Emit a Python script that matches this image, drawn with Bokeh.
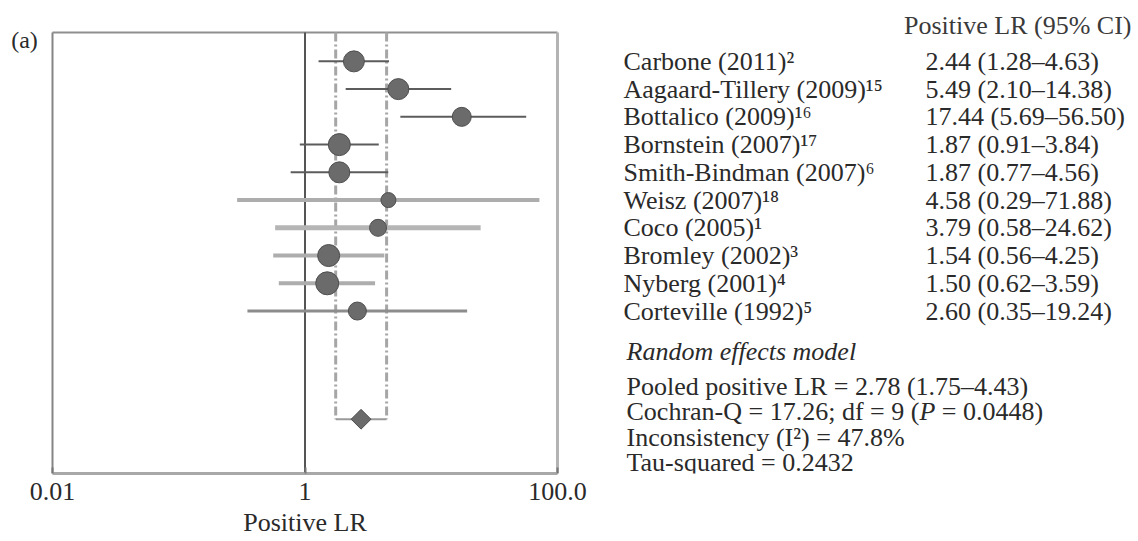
import math
from bokeh.plotting import figure
from bokeh.models import Range1d, FixedTicker, LogAxis, LogScale, ColumnDataSource, Title
from bokeh.embed import file_html
from bokeh.resources import INLINE
from bokeh.core.properties import value

# ---------------- data ----------------
studies = ["Carbone (2011)²", "Aagaard-Tillery (2009)¹⁵", "Bottalico (2009)¹⁶",
           "Bornstein (2007)¹⁷", "Smith-Bindman (2007)⁶", "Weisz (2007)¹⁸",
           "Coco (2005)¹", "Bromley (2002)³", "Nyberg (2001)⁴", "Corteville (1992)⁵"]
lr = [2.44, 5.49, 17.44, 1.87, 1.87, 4.58, 3.79, 1.54, 1.50, 2.60]
ci_lo = [1.28, 2.10, 5.69, 0.91, 0.77, 0.29, 0.58, 0.56, 0.62, 0.35]
ci_hi = [4.63, 14.38, 56.50, 3.84, 4.56, 71.88, 24.62, 4.25, 3.59, 19.24]
weights = [21, 21, 19, 22, 21, 15, 17, 22, 23, 18]   # marker diameter ~ study weight

pooled_lr = 2.78
pooled_lo = 1.75
pooled_hi = 4.43
null_value = 1

x_min, x_max = 0.01, 100
x_ticks = [0.01, 1, 100]
x_tick_labels = ["0.01", "1", "100.0"]
x_label = "Positive LR"

panel_label = "(a)"
header = "Positive LR (95% CI)"
model_title = "Random effects model"
stats_lines = ["Pooled positive LR = 2.78 (1.75–4.43)",
               "Cochran-Q = 17.26; df = 9 (",
               "Inconsistency (I²) = 47.8%",
               "Tau-squared = 0.2432"]
cochran_p = "P"
cochran_tail = "= 0.0448)"

# ---------------- layout constants (pixels) ----------------
FONT = "Liberation Serif"
FS = "26px"
TXT = "#2a2a2a"
W, H = 1134, 540
AXIS_Y = 474          # box bottom / axis line
BOX_TOP = 32
BOX_L, BOX_R = 52, 557
ROW0 = 61.0
STEP = 27.8
DEC = (BOX_R - BOX_L) / math.log10(x_max / x_min)

def row_of(px):
    return (px - ROW0) / STEP

rows = list(range(len(studies)))
pooled_row = 12.9

ci_color = ["#5c5c5c", "#5c5c5c", "#5c5c5c", "#5c5c5c", "#5c5c5c",
            "#adadad", "#b5b5b5", "#adadad", "#adadad", "#8c8c8c"]
ci_width = [2, 2, 2, 2, 2, 4, 5, 4, 4, 3]

# ---------------- figure ----------------
p = figure(width=W, height=H, x_range=Range1d(0, W),
           y_range=Range1d(row_of(AXIS_Y), row_of(0)),
           x_axis_location=None, y_axis_location=None,
           output_backend="svg", toolbar_location=None,
           min_border_left=0, min_border_right=0, min_border_top=0,
           min_border_bottom=H - AXIS_Y)
p.outline_line_color = None
p.xgrid.visible = False
p.ygrid.visible = False

lo_log = math.log10(x_min) - BOX_L / DEC
hi_log = math.log10(x_min) + (W - BOX_L) / DEC
p.extra_x_ranges = {"lr": Range1d(10 ** lo_log, 10 ** hi_log)}
p.extra_x_scales = {"lr": LogScale()}

ax = LogAxis(x_range_name="lr", ticker=FixedTicker(ticks=x_ticks), bounds=(x_min, x_max))
ax.major_label_overrides = {t: l for t, l in zip(x_ticks, x_tick_labels)}
ax.major_label_text_font = FONT
ax.major_label_text_font_size = FS
ax.major_label_text_color = TXT
ax.major_label_standoff = 9
ax.major_tick_in = 6
ax.major_tick_out = 0
ax.major_tick_line_color = "#777777"
ax.major_tick_line_width = 2
ax.minor_tick_line_color = None
ax.axis_line_color = "#a8a8a8"
ax.axis_line_width = 3
p.add_layout(ax, "below")

# axis title, centred under the forest box
label_w = 4.751 * 26
p.add_layout(Title(text=x_label, align="left", offset=(BOX_L + BOX_R) / 2 - label_w / 2,
                   text_font=FONT, text_font_size=FS, text_font_style="normal",
                   text_color=TXT, standoff=7), "below")

y_top = row_of(BOX_TOP)
y_bot = row_of(AXIS_Y)

# box sides (top, left, right)
p.segment(x0=[x_min], y0=[y_top], x1=[x_max], y1=[y_top], x_range_name="lr",
          line_color="#8f8f8f", line_width=2)
p.segment(x0=[x_min], y0=[y_top], x1=[x_min], y1=[y_bot], x_range_name="lr",
          line_color="#858585", line_width=2)
p.segment(x0=[x_max], y0=[y_top], x1=[x_max], y1=[y_bot], x_range_name="lr",
          line_color="#b3b3b3", line_width=3)

# reference line at 1
p.segment(x0=[null_value], y0=[y_top], x1=[null_value], y1=[y_bot], x_range_name="lr",
          line_color="#555555", line_width=2)

# pooled CI dash-dot guides and bracket
p.segment(x0=[pooled_lo, pooled_hi], y0=[y_top, y_top],
          x1=[pooled_lo, pooled_hi], y1=[pooled_row, pooled_row], x_range_name="lr",
          line_color="#a6a6a6", line_width=3, line_dash="9 3 2 3")
p.segment(x0=[pooled_lo], y0=[pooled_row], x1=[pooled_hi], y1=[pooled_row],
          x_range_name="lr", line_color="#9a9a9a", line_width=2)

src = ColumnDataSource(dict(lr=lr, lo=ci_lo, hi=ci_hi, y=rows, w=weights,
                            c=ci_color, lw=ci_width))
p.segment(x0="lo", y0="y", x1="hi", y1="y", line_color="c", line_width="lw",
          source=src, x_range_name="lr")
p.scatter(x="lr", y="y", size="w", marker="circle", fill_color="#6b6b6b",
          line_color="#4e4e4e", line_width=1, source=src, x_range_name="lr")

p.scatter(x=[pooled_lr], y=[pooled_row], marker="square", angle=math.pi / 4, size=14,
          fill_color="#6b6b6b", line_color="#4e4e4e", line_width=1, x_range_name="lr")

# ---------------- texts ----------------
common = dict(text_font=value(FONT), text_font_size=FS, text_color=TXT,
              text_baseline="middle")

p.text(x=[24], y=[row_of(40)], text=[panel_label], text_align="center",
       text_font=value(FONT), text_font_size="24px", text_color=TXT,
       text_baseline="middle")

ci_text = [f"{a:.2f} ({b:.2f}–{c:.2f})" for a, b, c in zip(lr, ci_lo, ci_hi)]
tsrc = ColumnDataSource(dict(name=studies, ci=ci_text, y=rows))
p.text(x=623, y="y", text="name", source=tsrc, **common)
p.text(x=925, y="y", text="ci", source=tsrc, **common)
p.text(x=[1131], y=[row_of(25)], text=[header], text_align="right",
       text_font=value(FONT), text_font_size="26px", text_color="#3a3a3a",
       text_baseline="middle")

p.text(x=[626], y=[row_of(352)], text=[model_title], text_font_style="italic", **common)
stat_px = [387, 412, 438, 463]
p.text(x=[626] * 4, y=[row_of(v) for v in stat_px], text=stats_lines, **common)
w1 = 11.265 * 26
p.text(x=[626 + w1], y=[row_of(412)], text=[cochran_p], text_font_style="italic", **common)
p.text(x=[626 + w1 + (0.611 + 0.25) * 26], y=[row_of(412)], text=[cochran_tail], **common)

open("out.html", "w").write(file_html(p, INLINE))
